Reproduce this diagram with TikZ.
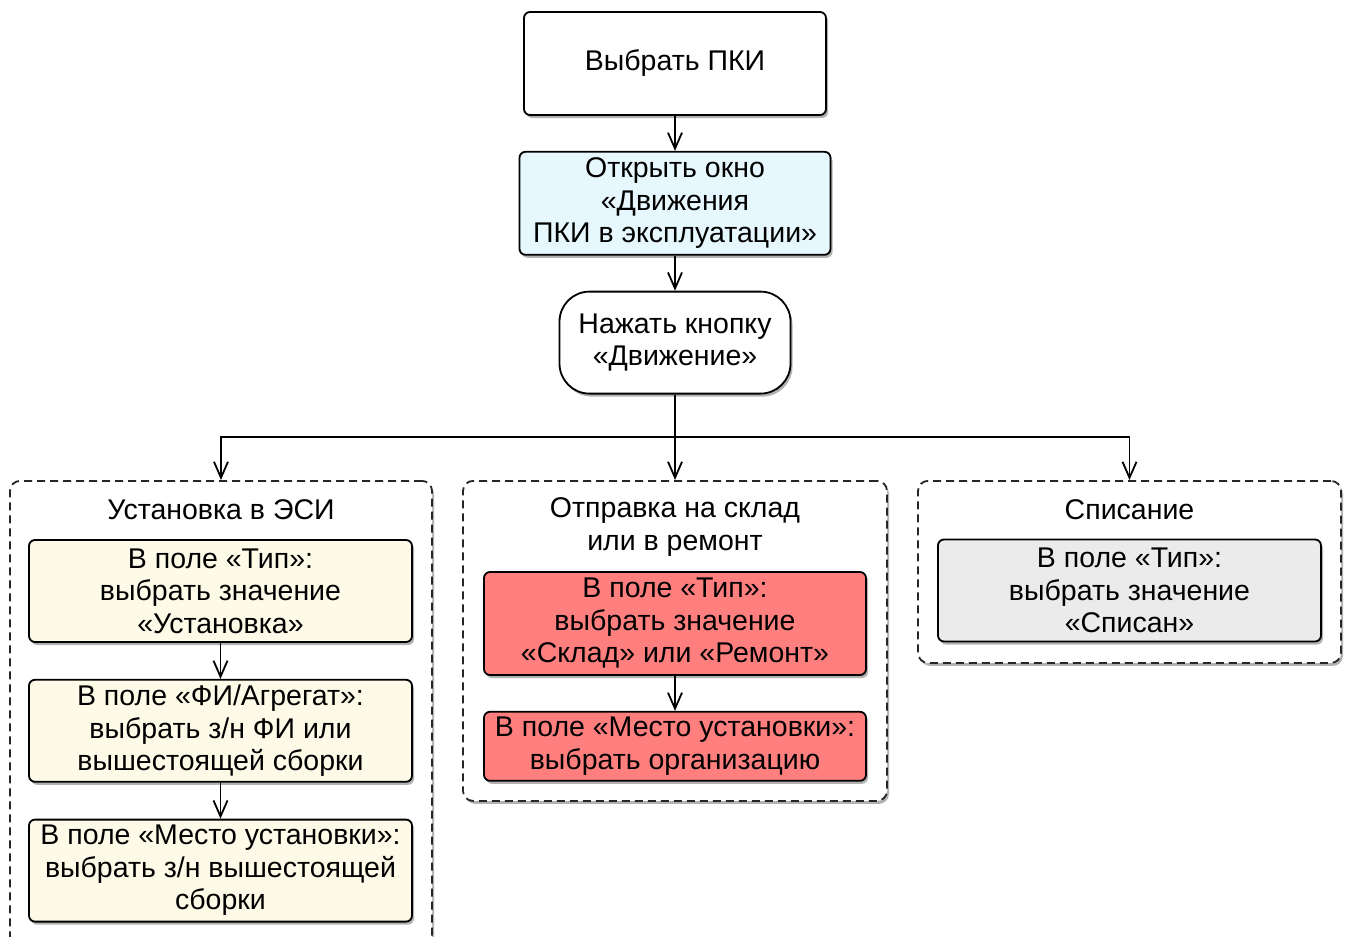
\documentclass[tikz,border=0pt]{standalone}
\usepackage{fontspec}
\setmainfont{Liberation Sans}
\usetikzlibrary{positioning, shadows, arrows.meta}
\definecolor{boxblue}{HTML}{E6F8FD}
\definecolor{boxcream}{HTML}{FDFBE7}
\definecolor{boxred}{HTML}{FF7F7F}
\definecolor{boxgrey}{HTML}{EBEBEB}
\def\stepw{383pt}
\def\steph{102pt}
\def\stepsep{36pt}
\tikzstyle{block}=[rectangle, draw=black, line width=1.8pt, rounded corners=6pt, align=center, minimum height=\steph, inner sep=2pt, font=\fontsize{28.5}{32.5}\selectfont, drop shadow={shadow xshift=2pt, shadow yshift=-3pt, opacity=0.3, fill=black}]
\tikzstyle{group}=[rectangle, draw=black!85, dash pattern=on 8pt off 5pt, line width=1.8pt, rounded corners=10pt, fill=white, drop shadow={shadow xshift=2pt, shadow yshift=-3pt, opacity=0.3, fill=black}]
\tikzstyle{title}=[align=center, inner sep=0pt, font=\fontsize{28.5}{32.5}\selectfont]
\tikzstyle{flow}=[-{Straight Barb[length=16pt,width=14pt]}, line width=1.8pt]

\begin{document}
\begin{tikzpicture}[x=1pt, y=1pt]
		\clip (0,0) rectangle (1350,-937);
		% Main chain at the top
		\node[block, fill=white, minimum width=302pt, minimum height=103pt] (pick) at (675,-63.5) {Выбрать ПКИ};
		\node[block, fill=boxblue, minimum width=311pt, minimum height=103pt, below=35pt of pick] (open) {Открыть окно\\«Движения\\ПКИ в эксплуатации»};
		\node[block, fill=white, rounded corners=30pt, minimum width=231pt, below=35pt of open] (press) {Нажать кнопку\\«Движение»};
		\draw[flow] (pick) -- (open);
		\draw[flow] (open) -- (press);
		% Dashed groups for the three kinds of movement
		\node[group, minimum width=422pt, minimum height=480pt, anchor=north] (inst) at (221,-480) {};
		\node[group, minimum width=424pt, minimum height=320pt, anchor=north] (store) at (675,-480) {};
		\node[group, minimum width=423pt, minimum height=182pt, anchor=north] (scrap) at (1129.5,-480) {};
		\node[title] (inst-t) at ([yshift=-30pt]inst.north) {Установка в ЭСИ};
		\node[title] (store-t) at ([yshift=-47pt]store.north) {Отправка на склад\\или в ремонт};
		\node[title] (scrap-t) at ([yshift=-30pt]scrap.north) {Списание};
		% Branching from the button
		\coordinate (hub) at (675,-437);
		\draw[line width=1.8pt] (press) -- (hub);
		\draw[flow] (hub) -- (store);
		\draw[flow] (hub) -| (inst);
		\draw[flow] (hub) -| (scrap);
		% Steps inside the installation group
		\node[block, fill=boxcream, minimum width=\stepw] (inst-a) at (220.5,-591) {В поле «Тип»:\\выбрать значение\\«Установка»};
		\node[block, fill=boxcream, minimum width=\stepw, below=\stepsep of inst-a] (inst-b) {В поле «ФИ/Агрегат»:\\выбрать з/н ФИ или\\вышестоящей сборки};
		\node[block, fill=boxcream, minimum width=\stepw, below=\stepsep of inst-b] (inst-c) {В поле «Место установки»:\\выбрать з/н вышестоящей\\сборки};
		\draw[flow] (inst-a) -- (inst-b);
		\draw[flow] (inst-b) -- (inst-c);
		% Steps inside the store/repair group
		\node[block, fill=boxred, minimum width=382pt, minimum height=103pt] (store-a) at (675,-623.5) {В поле «Тип»:\\выбрать значение\\«Склад» или «Ремонт»};
		\node[block, fill=boxred, minimum width=382pt, minimum height=69pt, below=35pt of store-a] (store-b) {В поле «Место установки»:\\выбрать организацию};
		\draw[flow] (store-a) -- (store-b);
		% Step inside the write-off group
		\node[block, fill=boxgrey, minimum width=\stepw] (scrap-a) at (1129.5,-590.5) {В поле «Тип»:\\выбрать значение\\«Списан»};
	\end{tikzpicture}
\end{document}
